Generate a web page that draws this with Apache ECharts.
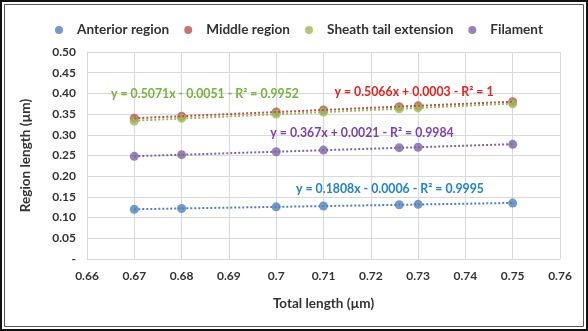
<!DOCTYPE html>
<html><head><meta charset="utf-8">
<script src="https://cdn.jsdelivr.net/npm/echarts@6/dist/echarts.min.js"></script>
<style>html,body{margin:0;padding:0;background:#fff}#c{width:588px;height:331px}</style>
</head><body><div id="c"></div>
<script>
const seriesNames = ['Anterior region', 'Middle region', 'Sheath tail extension', 'Filament'];
const totalLength = [0.67, 0.68, 0.70, 0.71, 0.726, 0.73, 0.75];
const anterior = [0.120, 0.122, 0.126, 0.128, 0.131, 0.132, 0.135];
const middle = [0.340, 0.345, 0.355, 0.360, 0.368, 0.370, 0.380];
const sheath = [0.333, 0.340, 0.350, 0.355, 0.363, 0.365, 0.375];
const filament = [0.248, 0.252, 0.259, 0.263, 0.269, 0.270, 0.277];
const equations = [
  'y = 0.1808x - 0.0006 - R² = 0.9995',
  'y = 0.5066x + 0.0003 - R² = 1',
  'y = 0.5071x - 0.0051 - R² = 0.9952',
  'y = 0.367x + 0.0021 - R² = 0.9984'
];
const xTicks = [0.66, 0.76, 0.01];
const yTicks = [0, 0.5, 0.05];

const colors = ['#4F81BD', '#C0504D', '#9BBB59', '#8064A2'];
const eqColors = ['#1F83D0', '#E8201E', '#74B43C', '#7E3FB4'];
const eqPos = [[390, 189], [414, 92], [205, 94], [362, 133]];
const allY = [anterior, middle, sheath, filament];

function fit(xs, ys) {
  const n = xs.length;
  let sx = 0, sy = 0, sxx = 0, sxy = 0;
  for (let i = 0; i < n; i++) { sx += xs[i]; sy += ys[i]; sxx += xs[i]*xs[i]; sxy += xs[i]*ys[i]; }
  const b = (n*sxy - sx*sy) / (n*sxx - sx*sx);
  const a = (sy - b*sx) / n;
  const x0 = Math.min(...xs), x1 = Math.max(...xs);
  return [[x0, a + b*x0], [x1, a + b*x1]];
}

const series = [];
allY.forEach((ys, i) => {
  series.push({
    name: seriesNames[i] + ' trend', type: 'line', data: fit(totalLength, ys),
    symbol: 'none', silent: true, z: 3,
    lineStyle: { color: colors[i], width: 2, type: [2, 2], cap: 'butt' }
  });
});
allY.forEach((ys, i) => {
  series.push({
    name: seriesNames[i], type: 'scatter', symbolSize: 9, z: 2,
    itemStyle: { color: colors[i] },
    data: totalLength.map((x, j) => [x, ys[j]])
  });
});

const font = 'Lato';
const chart = echarts.init(document.getElementById('c'), null, { renderer: 'canvas' });
chart.setOption({
  animation: false,
  color: colors,
  legend: {
    data: seriesNames, left: 50, top: 18, itemWidth: 8, itemHeight: 8, itemGap: 15, icon: 'circle',
    textStyle: { fontFamily: font, fontWeight: 'bold', fontSize: 13.6, color: '#333', padding: [0, 0, 0, 9] }
  },
  grid: { left: 87, right: 28, top: 52, bottom: 72 },
  xAxis: {
    type: 'value', min: xTicks[0], max: xTicks[1], interval: xTicks[2],
    name: 'Total length (µm)', nameLocation: 'middle', nameGap: 38,
    nameTextStyle: { fontFamily: font, fontWeight: 'bold', fontSize: 13.5, color: '#333' },
    axisLine: { show: true, lineStyle: { color: '#d9d9d9' } }, axisTick: { show: false },
    splitLine: { show: true, lineStyle: { color: '#d9d9d9' } },
    axisLabel: { margin: 11, fontFamily: font, fontWeight: 'bold', fontSize: 12, color: '#333',
      formatter: v => String(+v.toFixed(2)) }
  },
  yAxis: {
    type: 'value', min: yTicks[0], max: yTicks[1], interval: yTicks[2],
    name: 'Region length (µm)', nameLocation: 'middle', nameGap: 54,
    nameTextStyle: { fontFamily: font, fontWeight: 'bold', fontSize: 13.5, color: '#333' },
    axisLine: { show: true, lineStyle: { color: '#d9d9d9' } }, axisTick: { show: false },
    splitLine: { show: true, lineStyle: { color: '#d9d9d9' } },
    axisLabel: { margin: 11, fontFamily: font, fontWeight: 'bold', fontSize: 12, color: '#333',
      formatter: v => v === 0 ? '-' : v.toFixed(2) }
  },
  graphic: [
    { type: 'rect', shape: { x: 1, y: 1, width: 586, height: 329 }, style: { fill: 'none', stroke: '#111', lineWidth: 2 }, silent: true },
    { type: 'rect', shape: { x: 4.5, y: 4.5, width: 579, height: 322 }, style: { fill: 'none', stroke: '#555', lineWidth: 1 }, silent: true }
  ].concat(equations.map((t, i) => ({
    type: 'text', x: eqPos[i][0], y: eqPos[i][1], z: 10, silent: true,
    style: { text: t, fill: eqColors[i], font: 'bold 12.3px ' + font, align: 'center', verticalAlign: 'middle' }
  }))),
  series: series
});
</script></body></html>
